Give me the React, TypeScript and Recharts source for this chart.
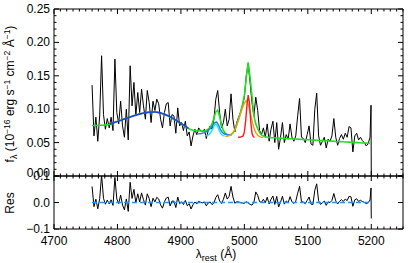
import React from 'react';
import {ComposedChart, Line, XAxis, YAxis} from 'recharts';

// spectrum sampled every 3 A from 4760 A
const WAVE_START = 4760;
const WAVE_STEP = 3;

const flux = [
  0.136, 0.06, 0.088, 0.052, 0.09, 0.18, 0.092, 0.07, 0.086, 0.072,
  0.088, 0.068, 0.175, 0.095, 0.078, 0.112, 0.075, 0.058, 0.1, 0.054,
  0.165, 0.105, 0.14, 0.09, 0.125, 0.095, 0.13, 0.105, 0.085, 0.128,
  0.11, 0.08, 0.112, 0.098, 0.115, 0.108, 0.085, 0.072, 0.095, 0.108,
  0.11, 0.075, 0.092, 0.09, 0.064, 0.102, 0.075, 0.08, 0.068, 0.082,
  0.06, 0.066, 0.045, 0.06, 0.07, 0.062, 0.072, 0.068, 0.066, 0.07,
  0.056, 0.068, 0.075, 0.07, 0.085, 0.115, 0.128, 0.095, 0.072, 0.08,
  0.1, 0.075, 0.085, 0.123, 0.085, 0.066, 0.08, 0.088, 0.095, 0.105,
  0.118, 0.15, 0.168, 0.14, 0.11, 0.09, 0.118, 0.098, 0.068, 0.062,
  0.072, 0.058, 0.078, 0.052, 0.07, 0.082, 0.05, 0.08, 0.04, 0.058,
  0.08, 0.05, 0.062, 0.055, 0.078, 0.058, 0.052, 0.06, 0.09, 0.116,
  0.058, 0.056, 0.05, 0.062, 0.075, 0.048, 0.046, 0.1, 0.124, 0.06,
  0.046, 0.052, 0.058, 0.042, 0.055, 0.052, 0.06, 0.086, 0.058, 0.046,
  0.056, 0.062, 0.055, 0.064, 0.058, 0.074, 0.072, 0.036, 0.06, 0.064,
  0.054, 0.058, 0.053, 0.05, 0.045, 0.048, 0.058,
];

// total fit (green), same wavelengths as flux
const model = [
  0.0755, 0.0756, 0.0757, 0.0758, 0.0759, 0.076, 0.0762, 0.0765, 0.0768, 0.0772,
  0.0778, 0.079, 0.0803, 0.0815, 0.0826, 0.0836, 0.0846, 0.0856, 0.0866, 0.0876,
  0.0886, 0.0896, 0.0905, 0.0914, 0.0922, 0.093, 0.0937, 0.0943, 0.0948, 0.0952,
  0.0955, 0.0957, 0.0958, 0.0957, 0.0954, 0.0949, 0.0942, 0.0933, 0.0922, 0.091,
  0.0896, 0.0881, 0.0865, 0.0848, 0.083, 0.0812, 0.0794, 0.0776, 0.0758, 0.074,
  0.0722, 0.0706, 0.0694, 0.0686, 0.068, 0.0676, 0.0674, 0.0673, 0.0674, 0.0677,
  0.0685, 0.07, 0.0728, 0.078, 0.087, 0.096, 0.0985, 0.089, 0.076, 0.068,
  0.064, 0.062, 0.0615, 0.0622, 0.0645, 0.069, 0.077, 0.086, 0.096, 0.107,
  0.121, 0.147, 0.17, 0.147, 0.12, 0.09, 0.078, 0.071, 0.065, 0.0615,
  0.0598, 0.0588, 0.0582, 0.0578, 0.0575, 0.0573, 0.0572, 0.057, 0.0568, 0.0567,
  0.0565, 0.0563, 0.0562, 0.056, 0.0558, 0.0557, 0.0555, 0.0553, 0.0552, 0.055,
  0.0548, 0.0547, 0.0545, 0.0543, 0.0542, 0.054, 0.0538, 0.0537, 0.0535, 0.0533,
  0.0532, 0.053, 0.0528, 0.0527, 0.0525, 0.0523, 0.0522, 0.052, 0.0518, 0.0517,
  0.0515, 0.0513, 0.0512, 0.051, 0.0508, 0.0507, 0.0505, 0.0503, 0.0502, 0.05,
  0.0498, 0.0497, 0.0495, 0.0493, 0.0492, 0.049, 0.0488,
];

// the spectrum drops to zero at its red end
const tailWave = [5199.6, 5200];
const tailFlux = [0.106, 0];
const tailRes = [0.055, -0.06];

// broad Hbeta (+ continuum)
const broadWave = [4788, 4794, 4800, 4806, 4812, 4818, 4824, 4830, 4836, 4842, 4848,
  4854, 4860, 4866, 4872, 4878, 4884, 4890, 4896, 4902, 4908, 4912];
const broadFlux = [0.0774, 0.0796, 0.0815, 0.0836, 0.0856, 0.0876, 0.0896, 0.0914,
  0.093, 0.0943, 0.0952, 0.0957, 0.0957, 0.0949, 0.0933, 0.091, 0.0881, 0.0848,
  0.0812, 0.0776, 0.074, 0.0714];

// [OIII] 4959 components
const o3bWave = [4926, 4929, 4932, 4935, 4938, 4941, 4944, 4947, 4950, 4953, 4956,
  4959, 4962, 4965, 4968, 4971, 4974, 4977, 4980];
const o3bFlux = [0.063, 0.0632, 0.0636, 0.0642, 0.0652, 0.0668, 0.069, 0.0718, 0.0755,
  0.0795, 0.081, 0.077, 0.07, 0.0655, 0.0632, 0.0622, 0.0618, 0.0615, 0.0612];
const o3bNarrowWave = [4938, 4941, 4944, 4947, 4950, 4953, 4955, 4957, 4960, 4963, 4966, 4969];
const o3bNarrowFlux = [0.06, 0.0605, 0.062, 0.065, 0.07, 0.076, 0.078, 0.076, 0.069,
  0.063, 0.0605, 0.06];

// [OIII] 5007 wing (orange) and core (red)
const o3wingWave = [4970, 4973, 4976, 4979, 4982, 4985, 4988, 4991, 4994, 4997, 5000,
  5003, 5006, 5009, 5012, 5015, 5018, 5021, 5024, 5027, 5030];
const o3wingFlux = [0.059, 0.0595, 0.0605, 0.0622, 0.065, 0.0695, 0.076, 0.084, 0.093,
  0.102, 0.109, 0.113, 0.108, 0.096, 0.083, 0.072, 0.065, 0.061, 0.059, 0.058, 0.0575];
const o3coreWave = [4990, 4994, 4998, 5000, 5002, 5004, 5006, 5008, 5010, 5012, 5014, 5016];
const o3coreFlux = [0.058, 0.0582, 0.06, 0.066, 0.082, 0.105, 0.121, 0.11, 0.082,
  0.064, 0.059, 0.058];

const xTickLabels = [4700, 4800, 4900, 5000, 5100, 5200];
const fluxTickLabels = [0, 0.05, 0.1, 0.15, 0.2, 0.25];
const resTickLabels = [-0.1, 0, 0.1];

const FONT = 'Liberation Sans, Arial, Helvetica, sans-serif';
// residual svg starts above the panel so its top label is not clipped
const RES_TOP = 160;
const RES_PAD = 15;

const pairs = (ws: number[], vs: number[]) => ws.map((w, i) => ({w, v: vs[i]}));
const gridWave = (i: number) => WAVE_START + WAVE_STEP * i;

const specData = flux.map((f, i) => ({w: gridWave(i), v: f})).concat(pairs(tailWave, tailFlux));
const modelData = model.map((m, i) => ({w: gridWave(i), v: m}));
const resData = flux
  .map((f, i) => ({w: gridWave(i), v: f - model[i]}))
  .concat(pairs(tailWave, tailRes));
const zeroData = pairs([4760, 5200], [0, 0]);

const range = (a: number, b: number, step: number) => {
  const out: number[] = [];
  for (let k = 0; a + k * step <= b + 1e-9; k++) out.push(+(a + k * step).toFixed(4));
  return out;
};
const xTicksAll = range(4700, 5250, 10);
const fluxTicksAll = range(0, 0.25, 0.01);

const isMajor = (v: number, majors: number[]) => majors.some((m) => Math.abs(m - v) < 1e-6);

const fmtFlux = (v: number) => v.toFixed(2);
const fmtRes = (v: number) => (v < 0 ? '\u2212' : '') + Math.abs(v).toFixed(1);

const makeTick =
  (side: string, majors: number[], fmt?: (v: number) => string, nudge?: (v: number) => number) =>
  (props: any) => {
    const {x, y, payload} = props;
    const v = payload.value;
    const major = isMajor(v, majors);
    const len = major ? 5 : 2.5;
    const dy = nudge ? nudge(v) : 0;
    let line;
    let label = null;
    if (side === 'bottom') {
      line = <line x1={x} x2={x} y1={y} y2={y - len} stroke='#000' />;
      if (fmt && major)
        label = <text x={x} y={y + 16} textAnchor='middle' fontSize={12} fontFamily={FONT}>{fmt(v)}</text>;
    } else if (side === 'top') {
      line = <line x1={x} x2={x} y1={y} y2={y + len} stroke='#000' />;
    } else if (side === 'left') {
      line = <line x1={x} x2={x + len} y1={y} y2={y} stroke='#000' />;
      if (fmt && major)
        label = (
          <text x={x - 4} y={y + 4 + dy} textAnchor='end' fontSize={12} fontFamily={FONT}>
            {fmt(v)}
          </text>
        );
    } else {
      line = <line x1={x} x2={x - len} y1={y} y2={y} stroke='#000' />;
    }
    return (
      <g>
        {line}
        {label}
      </g>
    );
  };

const FluxLabel = () => (
  <text transform='translate(14,94) rotate(-90)' textAnchor='middle' fontSize={12} fontFamily={FONT}>
    f<tspan dy={3} fontSize={9}>λ</tspan>
    <tspan dy={-3}> (10</tspan>
    <tspan dy={-4.5} fontSize={8.5}>−16</tspan>
    <tspan dy={4.5}> erg s</tspan>
    <tspan dy={-4.5} fontSize={8.5}>−1</tspan>
    <tspan dy={4.5}> cm</tspan>
    <tspan dy={-4.5} fontSize={8.5}>−2</tspan>
    <tspan dy={4.5}> Å</tspan>
    <tspan dy={-4.5} fontSize={8.5}>−1</tspan>
    <tspan dy={4.5}>)</tspan>
  </text>
);

const ResLabel = () => (
  <text transform={`translate(14,${203 - RES_TOP}) rotate(-90)`} textAnchor='middle' fontSize={12}
    fontFamily={FONT}>
    Res
  </text>
);

const WaveLabel = () => (
  <text x={216} y={258 - RES_TOP} textAnchor='middle' fontSize={12} fontFamily={FONT}>
    λ<tspan dy={3} fontSize={9}>rest</tspan>
    <tspan dy={-3}> (Å)</tspan>
  </text>
);

const axisLine = {stroke: '#000', strokeWidth: 1};
const commonX = {
  type: 'number' as const,
  dataKey: 'w',
  domain: [4700, 5250],
  allowDataOverflow: true,
  ticks: xTicksAll,
  interval: 0 as const,
  tickLine: false,
  tickSize: 0,
  tickMargin: 0,
  height: 1,
  axisLine,
};
const commonY = {
  type: 'number' as const,
  allowDataOverflow: true,
  interval: 0 as const,
  tickLine: false,
  tickSize: 0,
  tickMargin: 0,
  width: 1,
  axisLine,
};

const App = () => {
  return (
    <div style={{position: 'absolute', left: 0, top: 0, width: 415, height: 263, background: '#fff'}}>
      <div style={{position: 'absolute', left: 0, top: 0}}>
        <ComposedChart width={415} height={190} margin={{top: 8, right: 11, bottom: 13, left: 53}}>
          <XAxis {...commonX} xAxisId='b' orientation='bottom' tick={makeTick('bottom', xTickLabels)} />
          <XAxis {...commonX} xAxisId='t' orientation='top' tick={makeTick('top', xTickLabels)} />
          <YAxis {...commonY} yAxisId='l' orientation='left' domain={[0, 0.25]} ticks={fluxTicksAll}
            tick={makeTick('left', fluxTickLabels, fmtFlux, (v) => (v === 0 ? -3 : 0))}
            label={<FluxLabel />} />
          <YAxis {...commonY} yAxisId='r' orientation='right' domain={[0, 0.25]} ticks={fluxTicksAll}
            tick={makeTick('right', fluxTickLabels)} />
          <Line data={specData} xAxisId='b' yAxisId='l' dataKey='v' stroke='#000' strokeWidth={1}
            dot={false} isAnimationActive={false} />
          <Line data={modelData} xAxisId='b' yAxisId='l' dataKey='v' stroke='#22dd22' strokeWidth={1.6}
            dot={false} isAnimationActive={false} />
          <Line data={pairs(broadWave, broadFlux)} xAxisId='b' yAxisId='l' dataKey='v' stroke='#2040e0'
            strokeWidth={1.6} dot={false} isAnimationActive={false} />
          <Line data={pairs(o3bWave, o3bFlux)} xAxisId='b' yAxisId='l' dataKey='v' stroke='#1e80e8'
            strokeWidth={1.4} dot={false} isAnimationActive={false} />
          <Line data={pairs(o3bNarrowWave, o3bNarrowFlux)} xAxisId='b' yAxisId='l' dataKey='v' stroke='#10e8ff'
            strokeWidth={1.4} dot={false} isAnimationActive={false} />
          <Line data={pairs(o3wingWave, o3wingFlux)} xAxisId='b' yAxisId='l' dataKey='v' stroke='#f29a1a'
            strokeWidth={1.4} dot={false} isAnimationActive={false} />
          <Line data={pairs(o3coreWave, o3coreFlux)} xAxisId='b' yAxisId='l' dataKey='v' stroke='#ff1a1a'
            strokeWidth={1.4} dot={false} isAnimationActive={false} />
        </ComposedChart>
      </div>
      <div style={{position: 'absolute', left: 0, top: RES_TOP}}>
        <ComposedChart width={415} height={263 - RES_TOP}
          margin={{top: RES_PAD, right: 11, bottom: 33, left: 53}}>
          <XAxis {...commonX} xAxisId='b' orientation='bottom'
            tick={makeTick('bottom', xTickLabels, (v) => String(v))} label={<WaveLabel />} />
          <XAxis {...commonX} xAxisId='t' orientation='top' tick={makeTick('top', xTickLabels)} />
          <YAxis {...commonY} yAxisId='l' orientation='left' domain={[-0.1, 0.1]} ticks={resTickLabels}
            tick={makeTick('left', resTickLabels, fmtRes)} label={<ResLabel />} />
          <YAxis {...commonY} yAxisId='r' orientation='right' domain={[-0.1, 0.1]} ticks={resTickLabels}
            tick={makeTick('right', resTickLabels)} />
          <Line data={resData} xAxisId='b' yAxisId='l' dataKey='v' stroke='#000' strokeWidth={1}
            dot={false} isAnimationActive={false} />
          <Line data={zeroData} xAxisId='b' yAxisId='l' dataKey='v' stroke='#1e90ff' strokeWidth={1.4}
            strokeDasharray='5 3' dot={false} isAnimationActive={false} />
        </ComposedChart>
      </div>
    </div>
  );
};

export default App;
